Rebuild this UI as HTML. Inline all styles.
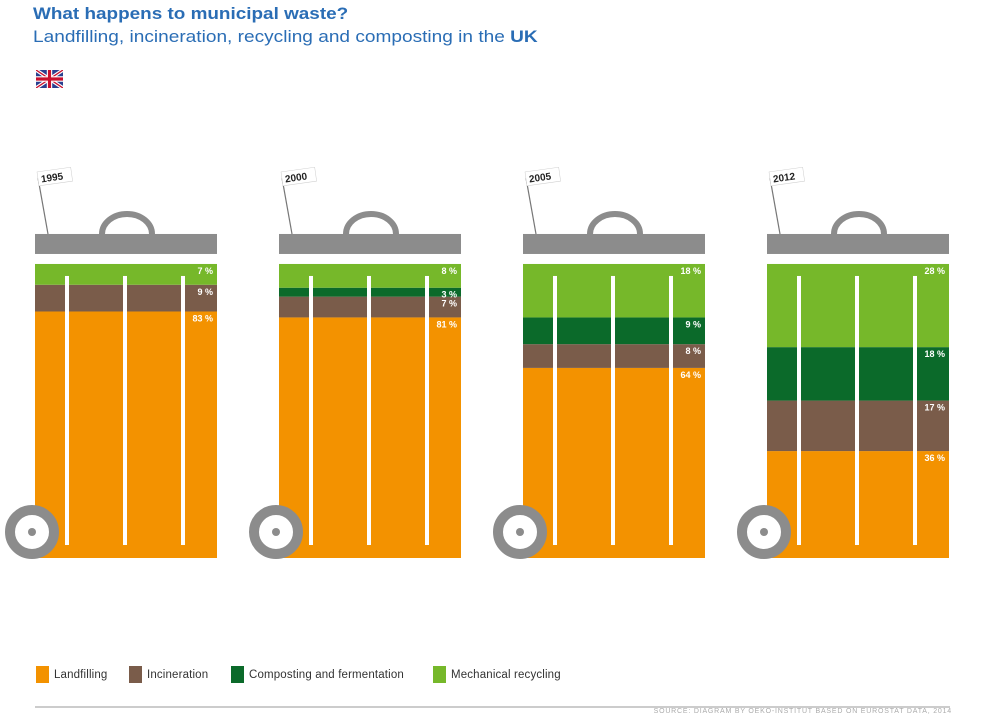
<!DOCTYPE html>
<html><head><meta charset="utf-8">
<style>
html,body{margin:0;padding:0;background:#fff;width:998px;height:716px;overflow:hidden;font-family:"Liberation Sans",sans-serif}
.t1{position:absolute;left:33px;top:5px;font-size:16.5px;font-weight:bold;color:#2a6db5;transform-origin:0 0;transform:scaleX(1.146);white-space:nowrap}
.t2{position:absolute;left:33px;top:28px;font-size:16.5px;color:#2a6db5;transform-origin:0 0;transform:scaleX(1.156);white-space:nowrap}
.leg{position:absolute;top:666px;font-size:11.5px;color:#333;display:flex;align-items:center;letter-spacing:0.15px}
.sw{width:13px;height:17px;margin-right:5px;display:inline-block}
.src{position:absolute;right:46px;top:708px;font-size:7px;color:#aaa;letter-spacing:0.8px}
</style></head><body>
<div class="t1">What happens to municipal waste?</div>
<div class="t2">Landfilling, incineration, recycling and composting in the <b>UK</b></div>
<svg style="position:absolute;left:36px;top:70px" width="27" height="18" viewBox="0 0 60 40">
<rect width="60" height="40" fill="#2a3f8f"/><path d="M0,0L60,40M60,0L0,40" stroke="#fff" stroke-width="8"/><path d="M0,0L60,40M60,0L0,40" stroke="#c8102e" stroke-width="3"/><path d="M30,0V40M0,20H60" stroke="#fff" stroke-width="12"/><path d="M30,0V40M0,20H60" stroke="#c8102e" stroke-width="7"/></svg>
<svg id="chart" style="position:absolute;left:0;top:0" width="998" height="716"></svg>
<div class="leg" style="left:36px"><span class="sw" style="background:#f39200"></span>Landfilling</div>
<div class="leg" style="left:129px"><span class="sw" style="background:#7a5c4a"></span>Incineration</div>
<div class="leg" style="left:231px"><span class="sw" style="background:#0b6a2a"></span>Composting and fermentation</div>
<div class="leg" style="left:433px"><span class="sw" style="background:#76b82a"></span>Mechanical recycling</div>
<div style="position:absolute;left:35px;top:706px;width:915px;height:2px;background:#ccc"></div>
<div class="src">SOURCE: DIAGRAM BY OEKO-INSTITUT BASED ON EUROSTAT DATA, 2014</div>
<script>
const years = ['1995','2000','2005','2012'];
const landfilling = [83,81,64,36];
const incineration = [9,7,8,17];
const composting = [0,3,9,18];
const recycling = [7,8,18,28];
const colors = {land:'#f39200',inc:'#7a5c4a',comp:'#0b6a2a',rec:'#76b82a'};
const svg = document.getElementById('chart');
const NS = 'http://www.w3.org/2000/svg';
const bottom = 558, pxPer = 2.97, binW = 182, x0 = 35, step = 244;
function yScale(v){ return bottom - v*pxPer; }
function mk(tag, attrs, parent){ const e=document.createElementNS(NS,tag); for(const k in attrs) e.setAttribute(k,attrs[k]); (parent||svg).appendChild(e); return e; }
years.forEach((yr,i)=>{
  const g = mk('g',{});
  
  
  const x = x0 + i*step;
  const segs = [['land',landfilling[i]],['inc',incineration[i]],['comp',composting[i]],['rec',recycling[i]]];
  let cum = 0;
  const segInfo = [];
  segs.forEach(([k,v])=>{
    const yTop = yScale(cum+v), yBot = yScale(cum);
    if(v>0){
      const r = mk('rect',{x:x,y:yTop,width:binW,height:yBot-yTop,fill:colors[k]},g);
      
      
      segInfo.push([v,yTop]);
    }
    cum += v;
  });
  const top = yScale(cum);
  [32,90,148].forEach(dx=>{
    const s = mk('rect',{x:x+dx-2,y:top+12,width:4,height:bottom-13-(top+12),fill:'#fff'},g);
    
    
  });
  segInfo.forEach(([v,yt])=>{
    const t = mk('text',{x:x+binW-4,y:yt+10,'text-anchor':'end','font-size':'9','font-weight':'bold',fill:'#fff','font-family':'Liberation Sans, sans-serif'},g);
    t.textContent = v+' %';
    
    
  });
  const lidY = top-30;
  const h = mk('path',{d:`M${x+67},${lidY} A25,20 0 0 1 ${x+117},${lidY}`,fill:'none',stroke:'#8c8c8c','stroke-width':6},g);
  
  
  const lid = mk('rect',{x:x,y:lidY,width:binW,height:20,fill:'#8c8c8c'},g);
  
  
  const pole = mk('line',{x1:x+13,y1:lidY,x2:x+3,y2:lidY-56,stroke:'#777','stroke-width':1.2},g);
  
  
  const fg = mk('g',{transform:`translate(${x+2},${lidY-62}) rotate(-8)`},g);
  mk('rect',{x:0,y:0,width:34,height:14,fill:'#fff',stroke:'#ccc','stroke-width':0.5},fg);
  const ft = mk('text',{x:3,y:11,'font-size':'10','font-weight':'bold',fill:'#222','font-family':'Liberation Sans, sans-serif'},fg);
  ft.textContent = yr;
  
  
  const w = mk('circle',{cx:x-3,cy:532,r:22,fill:'#fff',stroke:'#8c8c8c','stroke-width':10},g);
  
  
  mk('circle',{cx:x-3,cy:532,r:4,fill:'#8c8c8c'},g);
});
</script>
</body></html>
